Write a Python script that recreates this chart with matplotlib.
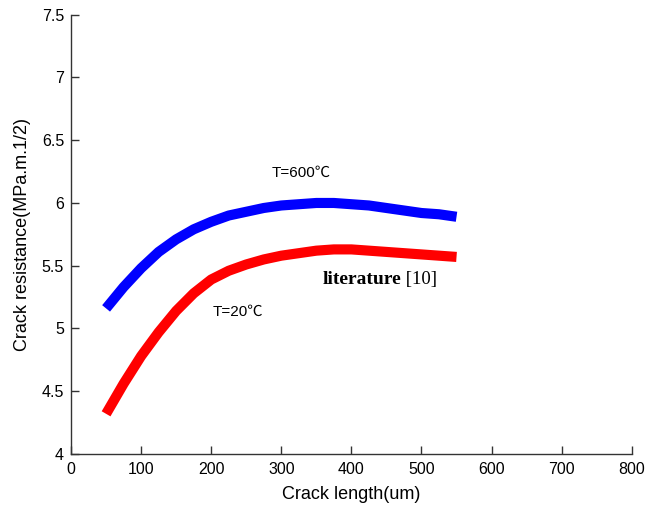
import numpy as np
import matplotlib
matplotlib.use("Agg")
import matplotlib.pyplot as plt

# crack length (um) and crack resistance (MPa.m^1/2)
crack_len = [50, 75, 100, 125, 150, 175, 200, 225, 250, 275, 300,
             325, 350, 375, 400, 425, 450, 475, 500, 525, 550]
kr_600 = [5.16, 5.33, 5.48, 5.61, 5.71, 5.79, 5.85, 5.90, 5.93, 5.96, 5.98,
          5.99, 6.00, 6.00, 5.99, 5.98, 5.96, 5.94, 5.92, 5.91, 5.89]
kr_20 = [4.32, 4.56, 4.78, 4.97, 5.14, 5.28, 5.39, 5.46, 5.51, 5.55, 5.58,
         5.60, 5.62, 5.63, 5.63, 5.62, 5.61, 5.60, 5.59, 5.58, 5.57]

xticks = [0, 100, 200, 300, 400, 500, 600, 700, 800]
yticks = [4, 4.5, 5, 5.5, 6, 6.5, 7, 7.5]
ytick_labels = ["4", "4.5", "5", "5.5", "6", "6.5", "7", "7.5"]

plt.rcParams['font.family'] = ['Liberation Sans', 'DejaVu Sans']
cjk_fam = ['Liberation Sans', 'Noto Sans CJK SC', 'DejaVu Sans']

fig = plt.figure(figsize=(6.62, 5.09), dpi=100)
ax = fig.add_axes([0.1073, 0.1081, 0.847, 0.863])

ax.plot(crack_len, kr_600, color='#0000ff', linewidth=7.3,
        solid_capstyle='butt', solid_joinstyle='round')
ax.plot(crack_len, kr_20, color='#ff0000', linewidth=7.3,
        solid_capstyle='butt', solid_joinstyle='round')

ax.text(286, 6.24, "T=600℃", fontsize=11, va='center', ha='left', family=cjk_fam)
ax.text(202, 5.13, "T=20℃", fontsize=11, va='center', ha='left', family=cjk_fam)
t = ax.text(359, 5.39, "literature", fontsize=14, fontweight='bold',
            family='Liberation Serif', va='center', ha='left')
ax.annotate(" [10]", xycoords=t, xy=(1, 0.5), va='center', ha='left',
            fontsize=13.5, family='Liberation Serif')

ax.set_xlim(0, 800)
ax.set_ylim(4, 7.5)
ax.set_xticks(xticks)
ax.set_yticks(yticks)
ax.set_yticklabels(ytick_labels)

for side in ['top', 'right']:
    ax.spines[side].set_visible(False)
for side in ['left', 'bottom']:
    ax.spines[side].set_color('#333333')
    ax.spines[side].set_linewidth(1.0)

ax.tick_params(direction='in', length=6, width=1, colors='#333333',
               labelcolor='black', labelsize=11.5)
ax.tick_params(axis='x', pad=6)
ax.tick_params(axis='y', pad=5)
ax.set_xlabel("Crack length(um)", fontsize=13, labelpad=6)
ax.set_ylabel("Crack resistance(MPa.m.1/2)", fontsize=13, labelpad=8)

fig.savefig("out.png", dpi=100)
